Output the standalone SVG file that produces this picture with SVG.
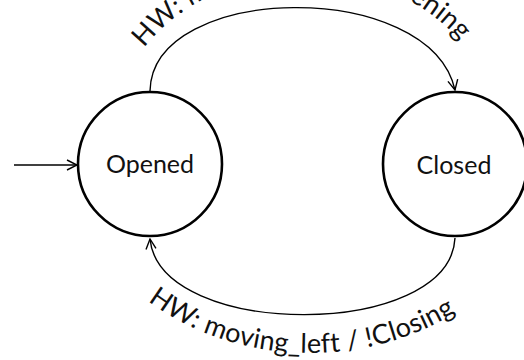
<svg xmlns="http://www.w3.org/2000/svg" width="524" height="360" viewBox="0 0 524 360">
  <style>
    .state { fill: #ffffff; stroke: #000000; stroke-width: 2.6; }
    .name { font-family: Lato, "Open Sans", sans-serif; font-size: 25px; fill: #111111; text-anchor: middle; }
    .edge { fill: none; stroke: #000000; stroke-width: 1.4; marker-end: url(#open); }
    .label { font-family: Lato, "Open Sans", sans-serif; font-size: 27px; letter-spacing: 0.2px; fill: #111111; }
  </style>
  <defs>
    <marker id="open" viewBox="0 0 12 12" refX="11" refY="6" markerWidth="12" markerHeight="12" markerUnits="userSpaceOnUse" orient="auto">
      <path d="M1,1 L11,6 L1,11" fill="none" stroke="#000000" stroke-width="1.4"/>
    </marker>
    <!-- baselines for the transition labels -->
    <path id="topLabelPath" d="M 144 48 A 192 160 0 0 1 497 135"/>
    <path id="bottomLabelPath" d="M 148 301 A 244 206 0 0 0 554 146"/>
  </defs>

  <g id="connectors">
    <line class="edge" x1="14" y1="165" x2="77" y2="165"/>
    <path class="edge" d="M150,91 C152,-18 430,-22 455,90"/>
    <path class="edge" d="M455,238 C450,340 160,340 150,239"/>
    <text class="label"><textPath href="#topLabelPath">HW: moving_right / !Opening</textPath></text>
    <text class="label"><textPath href="#bottomLabelPath">HW: moving_left / !Closing</textPath></text>
  </g>

  <g id="opened">
    <circle class="state" cx="150" cy="164" r="72"/>
    <text class="name" x="150" y="173">Opened</text>
  </g>

  <g id="closed">
    <circle class="state" cx="455" cy="164" r="72"/>
    <text class="name" x="454" y="174">Closed</text>
  </g>
</svg>
